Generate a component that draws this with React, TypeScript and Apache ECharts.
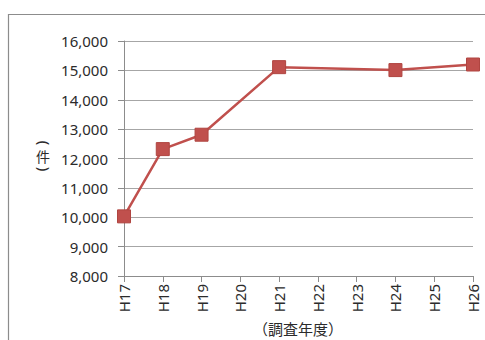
import React, { useEffect, useRef } from "react";
import * as echarts from "echarts";

const categories = ["H17", "H18", "H19", "H20", "H21", "H22", "H23", "H24", "H25", "H26"];
const counts: (number | null)[] = [10030, 12320, 12810, null, 15110, null, null, 15010, null, 15200];
const yMin = 8000;
const yMax = 16000;
const yStep = 1000;
const yAxisTitleParts = ["(", "件", ")"];
const xAxisTitle = "（調査年度）";

export default function App() {
  const ref = useRef<HTMLDivElement>(null);
  useEffect(() => {
    if (!ref.current) return;
    const chart = echarts.init(ref.current, null, { renderer: "svg" });
    const font = "'Noto Sans', 'Noto Sans CJK JP', sans-serif";
    const cjk = "'Noto Sans CJK JP', sans-serif";
    const textColor = "#2b2b2b";
    const parenStyle = (t: string) => ({
      text: t,
      fontSize: 15,
      fill: textColor,
      align: "center",
      verticalAlign: "middle",
      fontFamily: "'Noto Sans', sans-serif",
    });
    chart.setOption({
      animation: false,
      backgroundColor: "#ffffff",
      textStyle: { fontFamily: font },
      grid: { left: 124, right: 12, top: 41, bottom: 64 },
      graphic: [
        {
          type: "rect",
          shape: { x: 8.5, y: 14.5, width: 520, height: 400 },
          style: { fill: "none", stroke: "#8c8c8c", lineWidth: 1.2 },
          silent: true,
        },
        {
          type: "text",
          x: 45,
          y: 143,
          rotation: -Math.PI / 2,
          style: parenStyle(yAxisTitleParts[0]),
        },
        {
          type: "text",
          x: 43,
          y: 156,
          style: {
            text: yAxisTitleParts[1],
            fontSize: 14,
            fill: textColor,
            align: "center",
            verticalAlign: "middle",
            fontFamily: cjk,
          },
        },
        {
          type: "text",
          x: 45,
          y: 169,
          rotation: -Math.PI / 2,
          style: parenStyle(yAxisTitleParts[2]),
        },
        {
          type: "text",
          x: 298,
          y: 328,
          style: {
            text: xAxisTitle,
            fontSize: 15,
            fill: textColor,
            align: "center",
            verticalAlign: "middle",
            fontFamily: cjk,
          },
        },
      ],
      xAxis: {
        type: "category",
        data: categories,
        boundaryGap: false,
        axisLine: { lineStyle: { color: "#8c8c8c", width: 1 } },
        axisTick: { show: true, length: 6, lineStyle: { color: "#8c8c8c" } },
        axisLabel: {
          rotate: 90,
          fontSize: 15,
          color: textColor,
          margin: 8,
          fontFamily: font,
        },
        splitLine: { show: false },
      },
      yAxis: {
        type: "value",
        min: yMin,
        max: yMax,
        interval: yStep,
        axisLine: { show: true, lineStyle: { color: "#8c8c8c", width: 1 } },
        axisTick: { show: true, length: 6, lineStyle: { color: "#8c8c8c" } },
        axisLabel: {
          fontSize: 15,
          color: textColor,
          margin: 16,
          fontFamily: font,
          formatter: (v: number) => v.toLocaleString("en-US"),
        },
        splitLine: { show: true, lineStyle: { color: "#a6a6a6", width: 1 } },
      },
      series: [
        {
          type: "line",
          data: counts,
          connectNulls: true,
          symbol: "rect",
          symbolSize: 13,
          lineStyle: { color: "#c0504d", width: 2.5 },
          itemStyle: { color: "#c0504d", borderColor: "#b04541", borderWidth: 1 },
        },
      ],
    });
    return () => chart.dispose();
  }, []);
  return (
    <div
      ref={ref}
      style={{ position: "fixed", left: 0, top: 0, width: 485, height: 340 }}
    />
  );
}
